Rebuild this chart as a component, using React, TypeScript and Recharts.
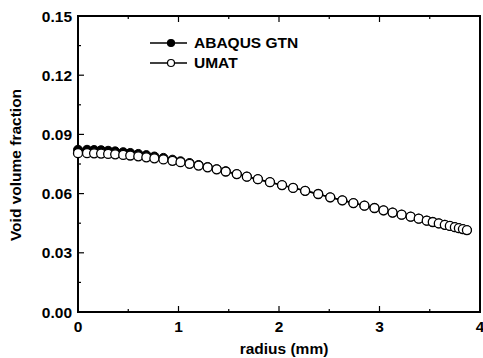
import { CartesianGrid, Label, Legend, Line, LineChart, ReferenceArea, XAxis, YAxis } from "recharts";

const radius = [
  0, 0.09, 0.16, 0.23, 0.3, 0.37, 0.45, 0.52, 0.6, 0.68, 0.76, 0.85, 0.94, 1.02, 1.11, 1.2,
  1.29, 1.38, 1.47, 1.58, 1.68, 1.79, 1.91, 2.03, 2.14, 2.26, 2.39, 2.51, 2.63, 2.74, 2.85,
  2.95, 3.04, 3.13, 3.22, 3.31, 3.39, 3.47, 3.53, 3.59, 3.65, 3.7, 3.75, 3.79, 3.83, 3.87,
];
const abaqusGtn = [
  0.0822, 0.0822, 0.0821, 0.082, 0.0817, 0.0814, 0.081, 0.0806, 0.0801, 0.0795, 0.0788, 0.0781,
  0.0772, 0.0764, 0.0755, 0.0745, 0.0735, 0.0724, 0.0713, 0.0699, 0.0686, 0.0673, 0.0658, 0.0643,
  0.0629, 0.0614, 0.0598, 0.0581, 0.0566, 0.0552, 0.0539, 0.0527, 0.0515, 0.0504, 0.0493, 0.0483,
  0.0473, 0.0463, 0.0456, 0.0449, 0.0442, 0.0436, 0.043, 0.0425, 0.042, 0.0415,
];
const umat = [
  0.0805, 0.0805, 0.0804, 0.0803, 0.0801, 0.0799, 0.0796, 0.0793, 0.0789, 0.0784, 0.0779, 0.0773,
  0.0766, 0.0759, 0.0751, 0.0742, 0.0733, 0.0723, 0.0712, 0.0699, 0.0686, 0.0673, 0.0658, 0.0643,
  0.0629, 0.0614, 0.0598, 0.0581, 0.0566, 0.0552, 0.0539, 0.0527, 0.0515, 0.0504, 0.0493, 0.0483,
  0.0473, 0.0463, 0.0456, 0.0449, 0.0442, 0.0436, 0.043, 0.0425, 0.042, 0.0415,
];
const xTicks = [0, 0.5, 1, 1.5, 2, 2.5, 3, 3.5, 4];
const yTicks = [0, 0.015, 0.03, 0.045, 0.06, 0.075, 0.09, 0.105, 0.12, 0.135, 0.15];

const data = radius.map((r, i) => ({ r, abaqus: abaqusGtn[i], umat: umat[i] }));

const font = "'Liberation Sans', Arial, sans-serif";
const isMajorX = (v: number) => Math.abs(v - Math.round(v)) < 1e-6;
const isMajorY = (v: number) => Math.abs(v / 0.03 - Math.round(v / 0.03)) < 1e-6;

function BottomTick({ x, y, payload }: any) {
  const major = isMajorX(payload.value);
  return (
    <g>
      <line x1={x} x2={x} y1={y} y2={y - (major ? 6 : 3)} stroke="#000" strokeWidth={1.2} />
      {major && (
        <text x={x} y={y + 14} textAnchor="middle" dominantBaseline="central" fontFamily={font} fontWeight="bold" fontSize={15.5} fill="#000">
          {payload.value}
        </text>
      )}
    </g>
  );
}

function TopTick({ x, y, payload }: any) {
  const major = isMajorX(payload.value);
  return <line x1={x} x2={x} y1={y} y2={y + (major ? 6 : 3)} stroke="#000" strokeWidth={1.2} />;
}

function LeftTick({ x, y, payload }: any) {
  const major = isMajorY(payload.value);
  return (
    <g>
      <line x1={x} x2={x + (major ? 6 : 3)} y1={y} y2={y} stroke="#000" strokeWidth={1.2} />
      {major && (
        <text x={x - 6} y={y} textAnchor="end" dominantBaseline="central" fontFamily={font} fontWeight="bold" fontSize={15.5} fill="#000">
          {payload.value.toFixed(2)}
        </text>
      )}
    </g>
  );
}

function RightTick({ x, y, payload }: any) {
  const major = isMajorY(payload.value);
  return <line x1={x} x2={x - (major ? 6 : 3)} y1={y} y2={y} stroke="#000" strokeWidth={1.2} />;
}

const legendRows = [
  { name: "ABAQUS GTN", fill: "#000" },
  { name: "UMAT", fill: "#fff" },
];

function renderLegend() {
  return (
    <div style={{ fontFamily: font, fontWeight: "bold", fontSize: 15.5 }}>
      {legendRows.map((row) => (
        <div key={row.name} style={{ display: "flex", alignItems: "center", height: 20 }}>
          <svg width={44} height={14}>
            <line x1={0} x2={37} y1={7} y2={7} stroke="#000" strokeWidth={1.5} />
            <circle cx={21} cy={7} r={3.5} fill={row.fill} stroke="#000" strokeWidth={1.2} />
          </svg>
          <span>{row.name}</span>
        </div>
      ))}
    </div>
  );
}

// plot frame: the grid is reduced to the four outer edges of the plot area
const frameRows = ({ offset }: any) => [offset.top, offset.top + offset.height];
const frameCols = ({ offset }: any) => [offset.left, offset.left + offset.width];

export default function App() {
  return (
    <div style={{ position: "absolute", left: 0, top: 0 }}>
      <LineChart width={483} height={358} data={data} margin={{ top: 15, right: 2, bottom: 0, left: 0 }}>
        <CartesianGrid
          stroke="#000"
          strokeWidth={2}
          horizontalCoordinatesGenerator={frameRows}
          verticalCoordinatesGenerator={frameCols}
        />
        <XAxis
          dataKey="r"
          type="number"
          domain={[0, 4]}
          ticks={xTicks}
          interval={0}
          height={46}
          tickSize={0}
          tickMargin={0}
          tickLine={false}
          tick={<BottomTick />}
          axisLine={{ stroke: "#000", strokeWidth: 2 }}
        >
          <Label
            content={() => (
              <text x={284} y={348} textAnchor="middle" dominantBaseline="central" fontFamily={font} fontWeight="bold" fontSize={15.5} fill="#000">
                radius (mm)
              </text>
            )}
          />
        </XAxis>
        <XAxis
          xAxisId="top"
          orientation="top"
          dataKey="r"
          type="number"
          domain={[0, 4]}
          ticks={xTicks}
          interval={0}
          height={1}
          tickSize={0}
          tickMargin={0}
          tickLine={false}
          tick={<TopTick />}
          axisLine={{ stroke: "#000", strokeWidth: 2 }}
        />
        <YAxis
          type="number"
          domain={[0, 0.15]}
          ticks={yTicks}
          interval={0}
          width={78}
          tickSize={0}
          tickMargin={0}
          tickLine={false}
          tick={<LeftTick />}
          axisLine={{ stroke: "#000", strokeWidth: 2 }}
        >
          <Label
            content={() => (
              <text x={15} y={165} transform="rotate(-90 15 165)" textAnchor="middle" dominantBaseline="central" fontFamily={font} fontWeight="bold" fontSize={15.5} fill="#000">
                Void volume fraction
              </text>
            )}
          />
        </YAxis>
        <YAxis
          yAxisId="right"
          orientation="right"
          type="number"
          domain={[0, 0.15]}
          ticks={yTicks}
          interval={0}
          width={1}
          tickSize={0}
          tickMargin={0}
          tickLine={false}
          tick={<RightTick />}
          axisLine={{ stroke: "#000", strokeWidth: 2 }}
        />
        <ReferenceArea x1={0} x2={4} y1={0} y2={0.15} fill="none" stroke="#000" strokeWidth={2} ifOverflow="visible" />
        <Legend
          layout="vertical"
          align="center"
          verticalAlign="middle"
          content={renderLegend}
          wrapperStyle={{ left: 150, top: 33, width: 200 }}
        />
        <Line
          dataKey="abaqus"
          name="ABAQUS GTN"
          stroke="#000"
          strokeWidth={1.5}
          dot={{ r: 4.5, fill: "#000", stroke: "#000", strokeWidth: 1 }}
          isAnimationActive={false}
        />
        <Line
          dataKey="umat"
          name="UMAT"
          stroke="#000"
          strokeWidth={1.5}
          dot={{ r: 4.5, fill: "#fff", stroke: "#000", strokeWidth: 1.3 }}
          isAnimationActive={false}
        />
      </LineChart>
    </div>
  );
}
